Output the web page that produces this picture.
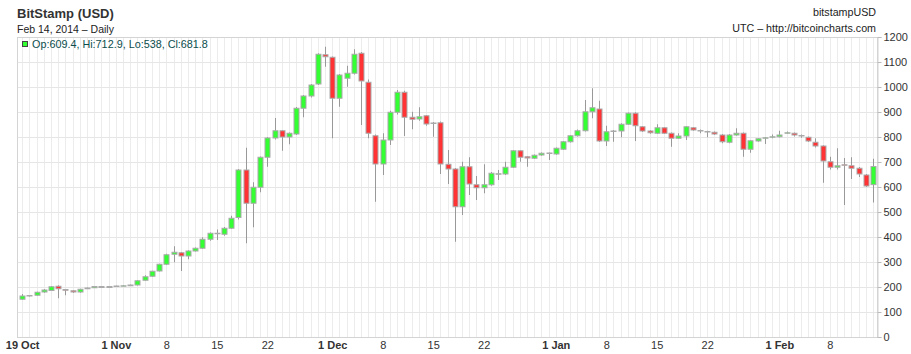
<!DOCTYPE html>
<html>
<head>
<meta charset="utf-8">
<script src="https://cdn.jsdelivr.net/npm/d3@7"></script>
<style>
	body { margin: 0; background: #fff; }
	svg { display: block; font-family: "Liberation Sans", Arial, sans-serif; }
</style>
</head>
<body>
<div id="chart-container"></div>
<script>
// daily candles, 19 Oct 2013 .. 14 Feb 2014 (one entry per day)
const firstDay = new Date(Date.UTC(2013, 9, 19));
const lastDay = new Date(Date.UTC(2014, 1, 14));

const open = [
	151, 164, 167, 180, 186, 203, 190, 185, 180, 193, 197, 202, 198,
	202, 204, 205, 208, 227, 243, 264, 291, 331, 337, 324, 344, 355, 391, 415, 411, 435,
	478, 668, 535, 599, 719, 796, 825, 800, 812, 915, 964, 1012, 1129, 1119, 955, 1035,
	1055, 1135, 1019, 805, 692, 788, 899, 979, 879, 872, 885, 856, 857, 691, 672,
	521, 681, 609, 597, 609, 652, 652, 679, 745, 721, 715, 728, 735, 732, 751, 781, 805,
	825, 901, 912, 784, 822, 824, 851, 895, 841, 824, 815, 837, 815, 795,
	804, 837, 826, 822, 819, 808, 779, 808, 815, 751, 784, 796, 800, 801, 816, 815, 806,
	799, 779, 764, 701, 679, 689, 685, 675, 648, 609.4
];
const high = [
	172, 168, 181, 192, 204, 207, 192, 187, 193, 198, 203, 204, 203,
	205, 207, 210, 228, 247, 265, 293, 333, 363, 340, 347, 358, 399, 418, 430, 440, 485,
	672, 757, 619, 722, 800, 876, 828, 818, 920, 968, 1012, 1135, 1161, 1122, 1052, 1085,
	1151, 1140, 1030, 810, 815, 905, 988, 985, 901, 919, 888, 860, 862, 748, 676,
	701, 719, 644, 691, 660, 668, 701, 748, 748, 724, 730, 738, 738, 758, 784, 808, 830,
	948, 995, 945, 845, 828, 855, 898, 899, 844, 827, 851, 840, 818, 815,
	844, 840, 830, 825, 822, 812, 812, 835, 818, 788, 796, 800, 810, 825, 822, 818, 810,
	802, 795, 767, 721, 755, 716, 719, 680, 652, 712.9
];
const low = [
	148, 162, 165, 177, 184, 155, 167, 176, 177, 192, 196, 196, 197,
	200, 203, 204, 206, 225, 240, 262, 288, 299, 264, 311, 342, 352, 385, 388, 405, 432,
	470, 375, 439, 579, 681, 790, 745, 771, 808, 879, 958, 1008, 1081, 795, 921, 1001,
	1050, 848, 795, 541, 648, 768, 890, 804, 831, 865, 845, 801, 652, 612, 381,
	488, 568, 548, 575, 605, 628, 648, 676, 701, 681, 712, 725, 708, 729, 748, 778, 802,
	822, 875, 780, 764, 781, 799, 848, 784, 820, 813, 812, 812, 761, 792,
	788, 825, 815, 799, 808, 775, 775, 805, 721, 737, 781, 772, 795, 798, 813, 802, 797,
	780, 758, 617, 670, 670, 528, 632, 640, 600, 538
];
const close = [
	164, 166, 179, 188, 201, 193, 187, 180, 191, 196, 202, 198, 202,
	204, 205, 208, 225, 241, 263, 291, 329, 339, 324, 344, 355, 391, 415, 414, 435, 475,
	668, 535, 599, 719, 796, 825, 800, 815, 915, 964, 1008, 1131, 1121, 955, 1048, 1055,
	1131, 1024, 815, 692, 788, 899, 979, 879, 871, 881, 852, 855, 692, 672, 521,
	681, 612, 597, 609, 655, 653, 679, 745, 719, 716, 727, 735, 736, 755, 781, 805, 825,
	901, 917, 784, 821, 824, 851, 895, 845, 824, 817, 837, 815, 795, 804,
	841, 828, 825, 821, 812, 781, 808, 815, 751, 785, 793, 797, 801, 808, 817, 808, 805,
	784, 764, 704, 679, 685, 688, 675, 652, 604, 681.8
];

const yTicks = [0, 100, 200, 300, 400, 500, 600, 700, 800, 900, 1000, 1100, 1200];
const xTickDates = [
	[2013, 9, 19], [2013, 10, 1], [2013, 10, 8], [2013, 10, 15], [2013, 10, 22],
	[2013, 11, 1], [2013, 11, 8], [2013, 11, 15], [2013, 11, 22],
	[2014, 0, 1], [2014, 0, 8], [2014, 0, 15], [2014, 0, 22],
	[2014, 1, 1], [2014, 1, 8]
];
const xTickLabels = [
	"19 Oct", "1 Nov", "8", "15", "22", "1 Dec", "8", "15", "22",
	"1 Jan", "8", "15", "22", "1 Feb", "8"
];
const boldTicks = ["19 Oct", "1 Nov", "1 Dec", "1 Jan", "1 Feb"];

{ // start block scope

	const width = 911,
		height = 354;
	const plot = { left: 17, right: 877, top: 37, bottom: 337 };

	const days = d3.utcDay.range(firstDay, d3.utcDay.offset(lastDay, 1));
	const candles = days.map((d, i) => ({
		date: d, o: open[i], h: high[i], l: low[i], c: close[i]
	}));

	const svg = d3
		.select("#chart-container")
		.append("svg")
		.attr("width", width)
		.attr("height", height);

	const x = d3
		.scaleUtc()
		.domain([d3.utcHour.offset(firstDay, -17), d3.utcHour.offset(lastDay, 13)])
		.range([plot.left, plot.right]);

	const y = d3
		.scaleLinear()
		.domain([0, 1200])
		.range([plot.bottom, plot.top]);

	// grid
	const grid = svg.append("g").attr("class", "grid");
	grid
		.selectAll("line.v")
		.data(days)
		.join("line")
		.attr("class", "v")
		.attr("x1", (d) => Math.round(x(d)) + 0.5)
		.attr("x2", (d) => Math.round(x(d)) + 0.5)
		.attr("y1", plot.top)
		.attr("y2", plot.bottom)
		.style("stroke", "#ececec");
	grid
		.selectAll("line.h")
		.data(yTicks)
		.join("line")
		.attr("class", "h")
		.attr("x1", plot.left)
		.attr("x2", plot.right)
		.attr("y1", (d) => Math.round(y(d)) + 0.5)
		.attr("y2", (d) => Math.round(y(d)) + 0.5)
		.style("stroke", "#e6e6e6");

	// frame
	svg
		.append("rect")
		.attr("x", plot.left + 0.5)
		.attr("y", plot.top + 0.5)
		.attr("width", plot.right - plot.left)
		.attr("height", plot.bottom - plot.top)
		.attr("fill", "none")
		.style("stroke", "#d4d4d4");

	// candles
	const bodyW = 5;
	const g = svg
		.append("g")
		.selectAll("g")
		.data(candles)
		.join("g")
		.attr("transform", (d) => `translate(${Math.round(x(d.date))},0)`);

	g.append("line")
		.attr("x1", 0.5)
		.attr("x2", 0.5)
		.attr("y1", (d) => y(d.h))
		.attr("y2", (d) => y(d.l))
		.style("stroke", "#999");

	g.append("rect")
		.attr("x", -bodyW / 2 + 0.5)
		.attr("y", (d) => y(Math.max(d.o, d.c)))
		.attr("width", bodyW)
		.attr("height", (d) => Math.max(0.5, Math.abs(y(d.o) - y(d.c))))
		.attr("fill", (d) => (d.c >= d.o ? "#33ff33" : "#ff3333"))
		.style("stroke", "#aaa")
		.style("stroke-width", 1);

	// y axis on the right
	const yAxis = d3
		.axisRight(y)
		.tickValues(yTicks)
		.tickSize(4)
		.tickPadding(2)
		.tickFormat(d3.format("d"));
	svg
		.append("g")
		.attr("transform", `translate(${plot.right + 0.5},0)`)
		.style("font", "11px 'Liberation Sans', Arial, sans-serif")
		.call(yAxis)
		.call((a) => a.select(".domain").style("stroke", "#d4d4d4"))
		.call((a) => a.selectAll(".tick line").style("stroke", "#bbb"))
		.call((a) => a.selectAll(".tick text").attr("fill", "#333"));

	// x labels
	svg
		.append("g")
		.selectAll("text")
		.data(xTickDates)
		.join("text")
		.attr("x", (d) => x(new Date(Date.UTC(d[0], d[1], d[2]))) + 0.5)
		.attr("y", 349)
		.attr("text-anchor", "middle")
		.style("font-size", "11px")
		.style("font-weight", (d, i) => (boldTicks.includes(xTickLabels[i]) ? "bold" : "normal"))
		.attr("fill", "#333")
		.text((d, i) => xTickLabels[i]);

	// header
	svg.append("text")
		.attr("x", 17).attr("y", 18)
		.style("font-size", "13px").style("font-weight", "bold")
		.attr("fill", "#333")
		.text("BitStamp (USD)");
	svg.append("text")
		.attr("x", 17).attr("y", 33)
		.style("font-size", "10.5px")
		.attr("fill", "#222")
		.text("Feb 14, 2014 \u2013 Daily");
	svg.append("text")
		.attr("x", 876).attr("y", 16)
		.attr("text-anchor", "end")
		.style("font-size", "10.7px")
		.attr("fill", "#222")
		.text("bitstampUSD");
	svg.append("text")
		.attr("x", 876).attr("y", 31.5)
		.attr("text-anchor", "end")
		.style("font-size", "10.7px")
		.attr("fill", "#222")
		.text("UTC \u2013 http://bitcoincharts.com");

	// legend for last candle
	const last = candles[candles.length - 1];
	svg.append("rect")
		.attr("x", 22.5).attr("y", 41.5)
		.attr("width", 5).attr("height", 5)
		.attr("fill", last.c >= last.o ? "#33ff33" : "#ff3333")
		.style("stroke", "#444");
	svg.append("text")
		.attr("x", 32).attr("y", 48)
		.style("font-size", "10.8px")
		.attr("fill", "#0b4d4d")
		.text(`Op:${last.o}, Hi:${last.h}, Lo:${last.l}, Cl:${last.c}`);

} // end block scope
</script>
</body>
</html>
